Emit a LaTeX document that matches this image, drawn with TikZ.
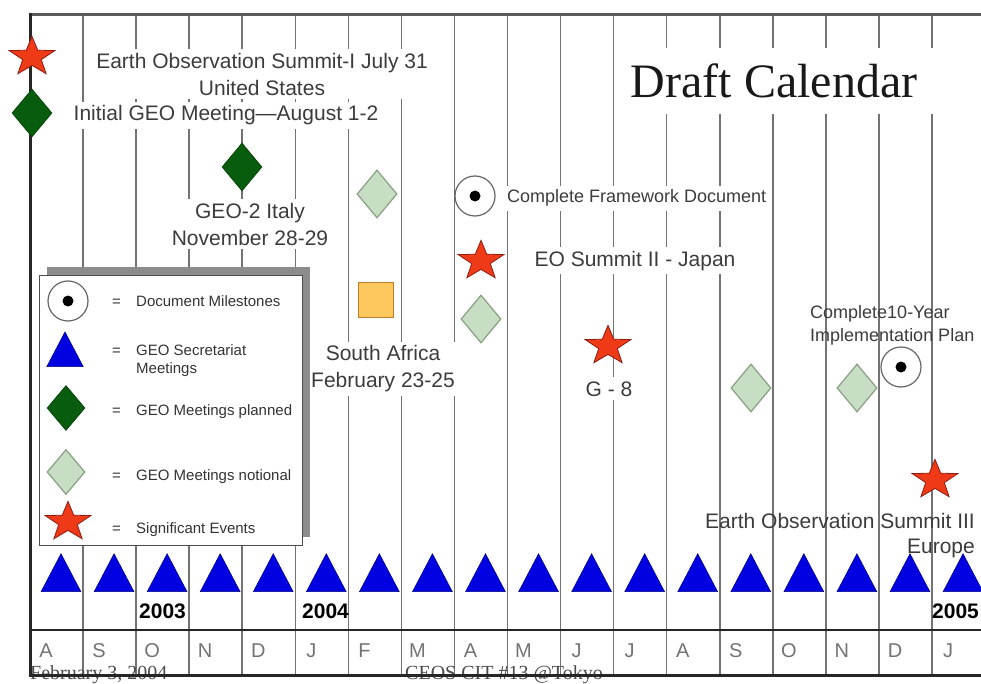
\documentclass[tikz,border=0pt]{standalone}
\usepackage{fontspec}
\setmainfont{Liberation Sans}
\newfontfamily\timesface{Liberation Serif}
\usetikzlibrary{shapes.geometric}
\definecolor{evfill}{RGB}{238,58,22}
\definecolor{evline}{RGB}{140,30,20}
\definecolor{pldark}{RGB}{8,92,14}
\definecolor{plline}{RGB}{0,60,0}
\definecolor{ntfill}{RGB}{200,222,196}
\definecolor{ntline}{RGB}{135,160,130}
\definecolor{secfill}{RGB}{0,0,225}
\definecolor{secline}{RGB}{0,0,130}
\definecolor{sqfill}{RGB}{255,200,95}
\definecolor{sqline}{RGB}{185,125,40}
\definecolor{ink}{RGB}{60,60,60}
\tikzset{
  gridline/.style  = {black!55, line width=1.5pt},
  rim/.style       = {black!85, line width=3pt},
  note/.style      = {font=\fontsize{21}{27}\selectfont, text=ink, align=center,
                      fill=white, inner sep=4pt},
  smallnote/.style = {font=\fontsize{18}{23.5}\selectfont, text=ink, inner sep=4pt},
  headline/.style  = {font=\timesface\fontsize{48}{56}\selectfont, text=black!90,
                      fill=white, inner xsep=16pt, inner ysep=16pt},
  legtext/.style   = {font=\fontsize{15}{18}\selectfont, text=black!80, inner sep=0pt},
  month/.style     = {font=\fontsize{20}{24}\selectfont, text=black!55, inner sep=0pt},
  year/.style      = {font=\bfseries\fontsize{21}{24}\selectfont, inner sep=0pt, anchor=west},
  foot/.style      = {font=\timesface\fontsize{20}{24}\selectfont, text=black!70, inner sep=0pt},
  event/.style     = {star, star points=5, star point ratio=2.45, minimum size=48pt,
                      inner sep=0pt, fill=evfill, draw=evline, line width=0.8pt, yscale=0.86},
  planned/.style   = {diamond, minimum width=40pt, minimum height=48pt, inner sep=0pt,
                      fill=pldark, draw=plline, line width=0.6pt},
  notional/.style  = {planned, fill=ntfill, draw=ntline, line width=1.2pt},
  secmeet/.style   = {regular polygon, regular polygon sides=3, minimum size=46pt,
                      inner sep=0pt, fill=secfill, draw=secline, line width=0.5pt, yscale=1.1},
  milestone/.style = {circle, minimum size=40pt, inner sep=0pt, fill=white,
                      draw=black!60, line width=1.2pt,
                      path picture={\fill[black] (path picture bounding box.center)
                        circle[radius=5.5pt];}},
  venue/.style     = {rectangle, minimum size=35pt, inner sep=0pt, fill=sqfill,
                      draw=sqline, line width=0.9pt},
}
\begin{document}
\begin{tikzpicture}[x=1pt,y=-1pt]
  \useasboundingbox[fill=white] (0,0) rectangle (981,684);
  \foreach \i in {1,...,17}
    \draw[gridline] ({30+53.06*\i},15) -- ({30+53.06*\i},675);

  % texts
  \node[note] (eos1) at (262,74) {Earth Observation Summit-I July 31\\United States};
  \node[note, anchor=base] (geo1) at (226,121) {Initial GEO Meeting---August 1-2};
  \node[note] (geo2) at (250,224) {GEO-2 Italy\\November 28-29};
  \node[headline, anchor=base] (title) at (774,98) {Draft Calendar};
  \node[smallnote, fill=white, anchor=base west] (cfd) at (503,203) {Complete Framework Document};
  \node[note, anchor=base] (eo2) at (635,266) {EO Summit II - Japan};
  \node[note] (safr) at (383,369) {South Africa\\February 23-25};
  \node[note, anchor=base] (g8) at (609,396) {G - 8};
  \node[smallnote, align=left, anchor=north west, inner sep=0pt] (impl) at (810,305)
    {Complete10-Year\\Implementation Plan};
  \node[note, fill=none, font=\fontsize{21}{25}\selectfont, align=right,
    anchor=north east, inner sep=0pt] (eos3) at (975,513) {Earth Observation Summit III\\Europe};

  % legend
  \fill[black!45] (47,267) rectangle (310,537);
  \draw[fill=white, draw=black!70, line width=0.8pt] (39,275) rectangle (302,545);
  \node[milestone] (kms) at (68,301) {};
  \node[secmeet, minimum size=42pt] (ksec) at (65,355) {};
  \node[planned, minimum width=38pt, minimum height=45pt] (kpl) at (66,408) {};
  \node[notional, minimum width=38pt, minimum height=45pt] (knt) at (66,472) {};
  \node[event] (kev) at (68,522) {};
  \foreach \y/\txt [count=\k] in {306/Document Milestones, 355/GEO Secretariat,
      415/GEO Meetings planned, 480/GEO Meetings notional, 533/Significant Events} {
    \node[legtext, anchor=base west] (eq\k) at (112,\y) {=};
    \node[legtext, anchor=base west] (lt\k) at (136,\y) {\txt};
  }
  \node[legtext, anchor=base west] (lt6) at (136,373) {Meetings};

  % bottom rows
  \foreach \i in {0,...,17}
    \node[secmeet] (t\i) at ({61+53.06*\i},579) {};
  \foreach \m [count=\i from 0] in {A,S,O,N,D,J,F,M,A,M,J,J,A,S,O,N,D,J}
    \node[month] (m\i) at ({46+53.06*\i},651) {\m};
  \node[year] (y3) at (139,611) {2003};
  \node[year] (y4) at (302,611) {2004};
  \node[year] (y5) at (932,611) {2005};

  % frame
  \draw[rim, black!65] (28.5,15) -- (981,15);
  \draw[rim] (30,13.5) -- (30,676.5);
  \draw[black!85, line width=1.8pt] (30,630) -- (981,630);
  \node[foot, anchor=base west] (date) at (30,679) {February 3, 2004};
  \node[foot, anchor=base west] (cit) at (405,679) {CEOS CIT \#13 @Tokyo};
  \draw[rim] (28.5,675) -- (981,675);

  % events
  \node[event] (s1) at (32,57) {};
  \node[planned] (p1) at (32,113) {};
  \node[planned] (p2) at (242,167) {};
  \node[notional] (n1) at (377,194) {};
  \node[milestone] (d1) at (475,196) {};
  \node[event] (s2) at (481,261) {};
  \node[venue] (v1) at (376,300) {};
  \node[notional] (n2) at (481,319) {};
  \node[event] (s3) at (608,346) {};
  \node[notional] (n3) at (751,388) {};
  \node[notional] (n4) at (857,388) {};
  \node[milestone] (d2) at (901,367) {};
  \node[event] (s4) at (935,480) {};
\end{tikzpicture}
\end{document}
